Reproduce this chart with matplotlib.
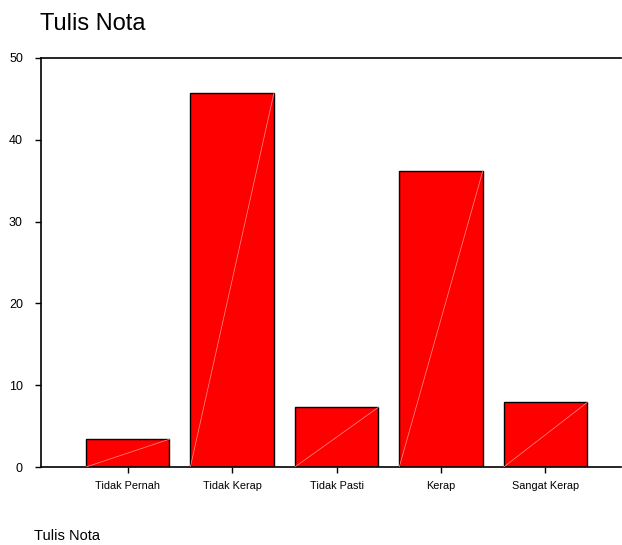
import matplotlib.pyplot as plt

categories = ['Tidak Pernah', 'Tidak Kerap', 'Tidak Pasti', 'Kerap', 'Sangat Kerap']
percent = [3.4, 45.7, 7.3, 36.2, 7.9]
yticks = [0, 10, 20, 30, 40, 50]

plt.rcParams['font.family'] = ['Liberation Sans', 'DejaVu Sans']

fig = plt.figure(figsize=(6.22, 5.45), dpi=100)
ax = fig.add_axes([0.0659, 0.1431, 0.932, 0.7505])

xs = list(range(len(categories)))
width = 0.8
ax.bar(xs, percent, width=width, color='#ff0000', edgecolor='black', linewidth=1.0, zorder=2)

# faint diagonal highlight on each bar
for x, v in zip(xs, percent):
    ax.plot([x - width / 2, x + width / 2], [0, v], color='#ff9090', linewidth=0.5, zorder=3)

ax.set_xlim(-0.83, 4.72)
ax.set_ylim(0, 50)
ax.set_xticks(xs)
ax.set_xticklabels(categories, fontsize=7.8)
ax.set_yticks(yticks)
ax.set_yticklabels([str(t) for t in yticks], fontsize=9)
ax.tick_params(axis='both', direction='out', length=4, width=1, pad=6)
ax.tick_params(axis='y', pad=9)

ax.spines['right'].set_visible(False)
for s in ['left', 'top', 'bottom']:
    ax.spines[s].set_linewidth(1.2)

fig.text(0.064, 0.956, 'Tulis Nota', fontsize=17, va='center', ha='left')
fig.text(0.055, 0.0165, 'Tulis Nota', fontsize=10.5, va='center', ha='left')

fig.savefig('out.png', dpi=100)
